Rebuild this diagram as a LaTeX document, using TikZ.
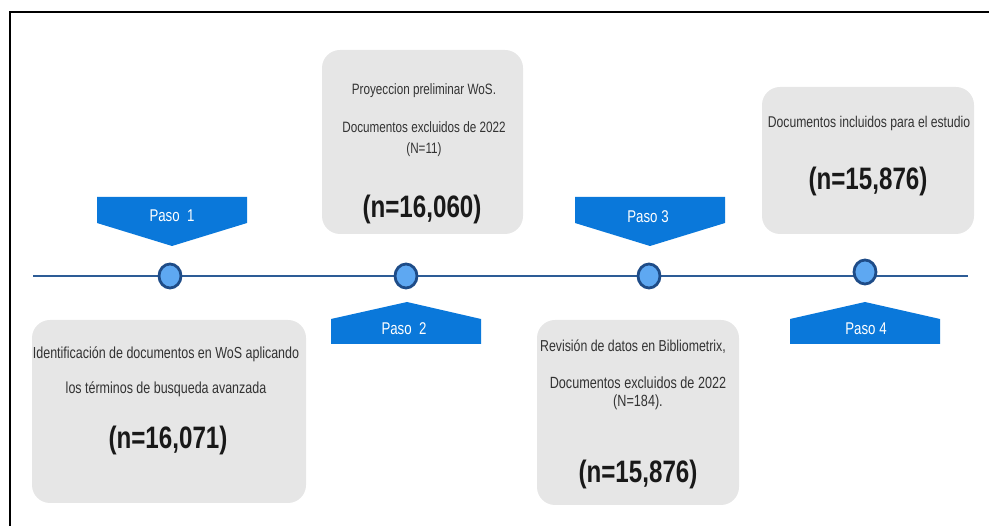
\documentclass[tikz,border=0pt]{standalone}
\usepackage{fontspec}
\setmainfont{Liberation Sans}[FakeStretch=0.78]
\definecolor{boxgray}{HTML}{E6E6E6}
\definecolor{bannerblue}{HTML}{0A78DA}
\definecolor{linedark}{HTML}{2D5C96}
\definecolor{dotfill}{HTML}{5EA8F2}
\definecolor{dotedge}{HTML}{1E4C88}
\definecolor{txtgray}{HTML}{333333}
\tikzset{
  graybox/.style={fill=boxgray, rounded corners=18pt, inner sep=0pt},
  banner/.style={fill=bannerblue, draw=none},
  pasotext/.style={text=white, inner sep=0pt, anchor=base, font=\fontsize{17}{20}\selectfont},
  smalltxt/.style={text=txtgray, inner sep=0pt, anchor=base},
  bigtxt/.style={text=black!90, inner sep=0pt, anchor=base, font=\fontsize{31}{36}\selectfont\bfseries},
  dot/.style={ellipse, fill=dotfill, draw=dotedge, line width=2.8pt, minimum width=22pt, minimum height=24pt, inner sep=0pt},
  timeline/.style={draw=linedark, line width=2.4pt},
  frameline/.style={draw=black, line width=2pt}
}
\usetikzlibrary{shapes.geometric}
\begin{document}
\begin{tikzpicture}[x=1pt,y=-1pt]
\useasboundingbox (0,0) rectangle (989,526);
% frame (top and left)
\coordinate (fbl) at (10,526);
\coordinate (ftl) at (10,12);
\coordinate (ftr) at (989,12);
\draw[frameline] (fbl) -- (ftl) -- (ftr);

% gray boxes
\node[graybox, minimum width=274pt, minimum height=183pt] (box1) at (169,411.5) {};
\node[graybox, minimum width=201pt, minimum height=184pt] (box2) at (422.5,142) {};
\node[graybox, minimum width=202pt, minimum height=185pt] (box3) at (638,412.5) {};
\node[graybox, minimum width=212pt, minimum height=147pt] (box4) at (868,160.5) {};

% box 1 text
\node[smalltxt, font=\fontsize{16}{19}\selectfont] (b1l1) at (166,358.7) {Identificación de documentos en WoS aplicando};
\node[smalltxt, font=\fontsize{16}{19}\selectfont] (b1l2) at (166,393.2) {los términos de busqueda avanzada};
\node[bigtxt] (b1n) at (168,449) {(n=16,071)};

% box 2 text
\node[smalltxt, font=\fontsize{15}{18}\selectfont] (b2l1) at (424,94.3) {Proyeccion preliminar WoS.};
\node[smalltxt, font=\fontsize{15}{18}\selectfont] (b2l2) at (424,132.8) {Documentos excluidos de 2022};
\node[smalltxt, font=\fontsize{15}{18}\selectfont] (b2l3) at (424,154) {(N=11)};
\node[bigtxt] (b2n) at (422,218) {(n=16,060)};

% box 3 text
\node[smalltxt, font=\fontsize{15.8}{19}\selectfont] (b3l1) at (633,352) {Revisión de datos en Bibliometrix,};
\node[smalltxt, font=\fontsize{16.2}{19}\selectfont] (b3l2) at (638,389) {Documentos excluidos de 2022};
\node[smalltxt, font=\fontsize{16.2}{19}\selectfont] (b3l3) at (638,407) {(N=184).};
\node[bigtxt] (b3n) at (638,483) {(n=15,876)};

% box 4 text
\node[smalltxt, font=\fontsize{15.6}{19}\selectfont] (b4l1) at (869,127.6) {Documentos incluidos para el estudio};
\node[bigtxt] (b4n) at (868,190) {(n=15,876)};

% timeline
\coordinate (tlL) at (33,276);
\coordinate (tlR) at (968,276);
\draw[timeline] (tlL) -- (tlR);
\node[dot] (c1) at (170,276) {};
\node[dot] (c2) at (406,276) {};
\node[dot] (c3) at (649,276) {};
\node[dot] (c4) at (865,272) {};

% banners
\fill[banner] (97,197) -- (247,197) -- (247,223) -- (172,246) -- (97,223) -- cycle;
\fill[banner] (575,197) -- (725,197) -- (725,223) -- (650,246) -- (575,223) -- cycle;
\fill[banner] (331,344) -- (481,344) -- (481,319) -- (407,302) -- (331,319) -- cycle;
\fill[banner] (790,344) -- (940,344) -- (940,319) -- (865,302) -- (790,319) -- cycle;

\node[pasotext] (p1) at (172,222) {Paso~~1};
\node[pasotext] (p3) at (648,223) {Paso 3};
\node[pasotext] (p2) at (404,335) {Paso~~2};
\node[pasotext] (p4) at (866,335) {Paso 4};
\end{tikzpicture}
\end{document}
